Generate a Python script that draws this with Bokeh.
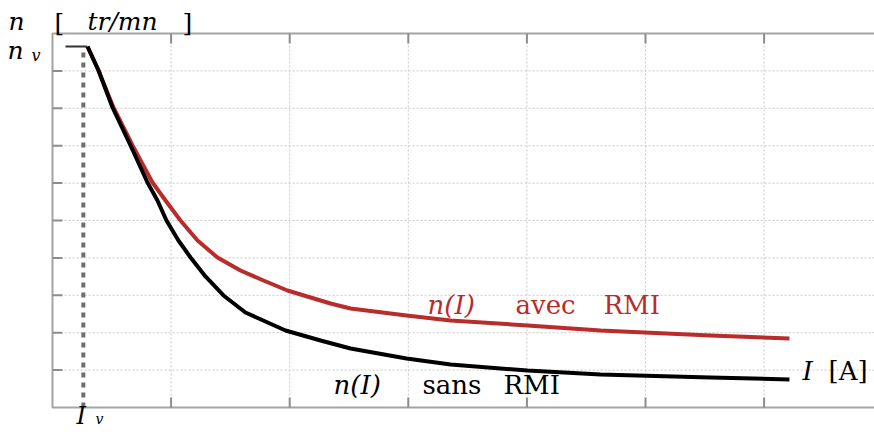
import math
from bokeh.plotting import figure
from bokeh.models import Range1d, Label
from bokeh.embed import file_html
from bokeh.resources import INLINE

# ---- data ----
I_sans = [0.295, 0.388, 0.506, 0.658, 0.801, 0.885, 0.961, 1.062, 1.164, 1.290,
          1.442, 1.627, 1.965, 2.260, 2.513, 2.985, 3.356, 4.005, 4.621, 5.548, 6.214]
n_sans = [9.652, 9.011, 8.021, 7.005, 6.016, 5.535, 5.000, 4.465, 4.011, 3.503,
          2.995, 2.540, 2.059, 1.791, 1.578, 1.310, 1.150, 0.989, 0.882, 0.802, 0.749]

I_avec = [0.295, 0.388, 0.514, 0.675, 0.843, 0.953, 1.079, 1.223, 1.391, 1.585,
          1.779, 1.981, 2.344, 2.513, 2.985, 3.356, 4.005, 4.621, 5.548, 6.214]
n_avec = [9.652, 9.011, 8.021, 7.005, 6.016, 5.535, 5.000, 4.465, 4.011, 3.663,
          3.396, 3.128, 2.781, 2.647, 2.460, 2.326, 2.193, 2.059, 1.925, 1.845]

I_v = 0.26
n_v = 9.652
x_ticks = [1, 2, 3, 4, 5, 6]
y_ticks = [1, 2, 3, 4, 5, 6, 7, 8, 9]
X_MAX = 6.93
Y_MAX = 10

RED = "#b82c2c"
FONT = "DejaVu Serif"
W, H = 874, 432
X0, XS, Y0, YS = 52, 118.6, 407, 37.4   # plot-box origin and unit sizes (px)
BASE_SHIFT = 7                            # text baseline correction (px)


def px_x(px):
    return (px - X0) / XS


def px_y(py):
    return (Y0 - py) / YS


p = figure(width=W, height=H,
           x_range=Range1d(px_x(0), px_x(W)), y_range=Range1d(px_y(H), px_y(0)),
           x_axis_location=None, y_axis_location=None,
           output_backend="svg", toolbar_location=None,
           min_border=0)
p.background_fill_color = "white"
p.border_fill_color = "white"
p.outline_line_color = None
p.xgrid.visible = False
p.ygrid.visible = False

# dotted grid inside the plot box
GRID = "#c8c8c8"
p.segment(x0=x_ticks, y0=[0] * len(x_ticks), x1=x_ticks, y1=[Y_MAX] * len(x_ticks),
          line_color=GRID, line_dash="2 2", line_width=1)
p.segment(x0=[0] * len(y_ticks), y0=y_ticks, x1=[X_MAX + 0.1] * len(y_ticks), y1=y_ticks,
          line_color=GRID, line_dash="2 2", line_width=1)

# box (left, bottom, top)
BOX = "#a4a4a4"
p.line([X_MAX + 0.1, 0, 0, X_MAX + 0.1], [Y_MAX, Y_MAX, 0, 0],
       line_color=BOX, line_width=2)

# tick marks (inside)
TICK = "#8c8c8c"
p.ray(x=[0] * len(y_ticks), y=y_ticks, length=10, length_units="screen",
      angle=0, line_color=TICK, line_width=2)
p.ray(x=x_ticks, y=[0] * len(x_ticks), length=10, length_units="screen",
      angle=math.pi / 2, line_color=TICK, line_width=2)
p.ray(x=x_ticks, y=[Y_MAX] * len(x_ticks), length=10, length_units="screen",
      angle=-math.pi / 2, line_color=TICK, line_width=2)

# I_v dashed line and n_v mark
p.line([I_v, I_v], [0, n_v - 0.12], line_color="#6e6e6e", line_width=4,
       line_dash="5 5")
p.line([0.11, I_v + 0.03], [n_v, n_v], line_color="#333333", line_width=2)

# curves
p.line(I_avec, n_avec, line_color=RED, line_width=4, line_join="round")
p.line(I_sans, n_sans, line_color="black", line_width=4, line_join="round")


def lab(text, px, py, color="black", italic=False, size=26, align="left"):
    p.add_layout(Label(x=px_x(px), y=px_y(py - BASE_SHIFT), text=text,
                       text_color=color, text_font=FONT,
                       text_font_style="italic" if italic else "normal",
                       text_font_size=f"{size}px", text_align=align,
                       text_baseline="alphabetic"))


# axis titles
lab("n", 8, 28, italic=True, size=25)
lab("[", 54, 29, size=25)
lab("tr/mn", 122, 28, italic=True, size=25, align="center")
lab("]", 182, 29, size=25)
lab("I", 802, 377, italic=True)
lab("[A]", 828, 377)

# special ticks
lab("n", 7, 57, italic=True, size=25)
lab("v", 31, 62, italic=True, size=16)
lab("I", 76, 422, italic=True, size=24)
lab("v", 95, 425, italic=True, size=14)

# curve labels
lab("n(I)", 333, 391, italic=True)
lab("sans", 422, 391)
lab("RMI", 503, 391)
lab("n(I)", 427, 311, color=RED, italic=True)
lab("avec", 515, 311, color=RED)
lab("RMI", 603, 311, color=RED)

open("out.html", "w").write(file_html(p, INLINE))
